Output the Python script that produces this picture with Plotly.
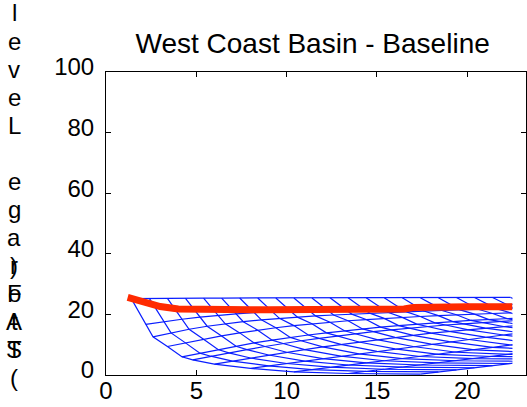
import plotly.graph_objects as go

# storage runs: each row is one run, starting full and drawn down step by step
start_years = [1.4, 2.4, 3.4, 4.4, 5.4, 6.4, 7.4, 8.4, 9.4, 10.4, 11.4,
               12.4, 13.4, 14.4, 15.4, 16.4, 17.4, 18.4, 19.4, 20.4, 21.4, 22.4]
step_offsets = [0, 0.8, 1.2, 2.0, 2.8, 3.4, 4.6, 6.6, 9.0, 12.0, 16.0]
storage_runs = [
    [25.2, 16.7, 12.6, 9.4, 6.0, 5.0, 3.6, 2.2, 1.0, 0.5, 0.3],
    [25.3, 17.6, 13.9, 10.6, 7.2, 6.2, 4.6, 3.0, 1.8, 1.2, 1.0],
    [25.3, 18.4, 15.1, 11.8, 8.4, 7.3, 5.6, 3.8, 2.6, 1.9, 1.7],
    [25.3, 19.1, 16.1, 12.9, 9.5, 8.4, 6.6, 4.6, 3.3, 2.6, 2.4],
    [25.4, 19.7, 16.9, 13.9, 10.6, 9.4, 7.5, 5.4, 4.0, 3.3, 3.1],
    [25.4, 20.2, 17.6, 14.8, 11.5, 10.4, 8.4, 6.2, 4.7, 4.0, 3.8],
    [25.4, 20.6, 18.2, 15.6, 12.4, 11.3, 9.3, 7.0, 5.4, 4.7, 4.5],
    [25.4, 21.0, 18.7, 16.3, 13.2, 12.1, 10.1, 7.8, 6.1, 5.4, 5.2],
    [25.4, 21.3, 19.1, 16.9, 13.9, 12.9, 10.9, 8.6, 6.8, 6.1, 5.9],
    [25.4, 21.6, 19.5, 17.4, 14.6, 13.6, 11.7, 9.4, 7.5, 6.8, 6.6],
    [25.4, 21.8, 19.8, 17.9, 15.2, 14.3, 12.4, 10.2, 8.3, 7.5],
    [25.5, 22.0, 20.1, 18.3, 15.8, 14.9, 13.1, 11.0, 9.1, 8.3],
    [25.5, 22.2, 20.4, 18.7, 16.3, 15.5, 13.8, 11.8, 9.9, 9.1],
    [25.5, 22.4, 20.7, 19.0, 16.8, 16.0, 14.4, 12.5, 10.7],
    [25.5, 22.6, 20.9, 19.3, 17.2, 16.5, 15.0, 13.2, 11.5],
    [25.5, 22.7, 21.1, 19.6, 17.6, 16.9, 15.5, 13.9],
    [25.5, 22.9, 21.3, 19.9, 18.0, 17.3, 16.0, 14.5],
    [25.5, 23.0, 21.5, 20.1, 18.3, 17.7, 16.5],
    [25.6, 23.1, 21.7, 20.3, 18.6, 18.0],
    [25.6, 23.2, 21.9, 20.5, 18.9],
    [25.6, 23.3, 22.0],
    [25.6, 23.4],
]

# baseline storage
baseline_years = [1.2, 2, 3, 4, 5, 6, 7, 8, 9, 10, 11, 12, 13, 14, 15, 16, 16.5,
                  17, 18, 19, 20, 21, 22, 22.5]
baseline_storage = [25.6, 24.0, 22.6, 21.8, 21.6, 21.5, 21.5, 21.5, 21.5, 21.5,
                    21.5, 21.5, 21.5, 21.5, 21.6, 21.7, 21.8, 22.3, 22.5, 22.5,
                    22.5, 22.5, 22.5, 22.5]

x_ticks = [0, 5, 10, 15, 20]
y_ticks = [0, 20, 40, 60, 80, 100]
title_text = "West Coast Basin - Baseline"
label_main = "Storage Level"
label_unit = "(TAF)"

FONT = "Liberation Sans, Arial, Helvetica, sans-serif"
W, H = 527, 407
ML, MR, MT, MB = 106, 1, 72, 32
PW, PH = W - ML - MR, H - MT - MB

# wireframe: runs plus lines joining the same step across runs
wx, wy = [], []
for s, run in zip(start_years, storage_runs):
    for j, v in enumerate(run):
        wx.append(s + step_offsets[j])
        wy.append(v)
    wx.append(None)
    wy.append(None)
for j in range(len(step_offsets)):
    for s, run in zip(start_years, storage_runs):
        if j < len(run):
            wx.append(s + step_offsets[j])
            wy.append(run[j])
    wx.append(None)
    wy.append(None)

fig = go.Figure()
fig.add_trace(go.Scatter(x=[], y=[], xaxis="x", yaxis="y", showlegend=False))
fig.add_trace(go.Scatter(x=wx, y=wy, mode="lines", xaxis="x2", yaxis="y2",
                         line=dict(color="#0a1eff", width=1.2), showlegend=False,
                         hoverinfo="skip"))
fig.add_trace(go.Scatter(x=baseline_years, y=baseline_storage, mode="lines",
                         xaxis="x2", yaxis="y2",
                         line=dict(color="#ff2a00", width=7), showlegend=False))

x_max = 23.25
clip_x = 22.5
axis_common = dict(showline=True, linecolor="black", linewidth=1, mirror="ticks",
                   ticks="inside", ticklen=5, tickcolor="black", showgrid=False,
                   zeroline=False, tickfont=dict(size=24, color="black", family=FONT))

annotations = []
for i, ch in enumerate(label_main):
    annotations.append(dict(text=ch, x=(14 - ML) / PW, y=(H - MB - (349 - 28 * i)) / PH,
                            xref="paper", yref="paper", showarrow=False,
                            xanchor="center", yanchor="middle",
                            font=dict(size=24, color="black", family=FONT)))
for i, ch in enumerate(label_unit):
    annotations.append(dict(text=ch, x=(14 - ML) / PW, y=(H - MB - (377 - 28 * i)) / PH,
                            xref="paper", yref="paper", showarrow=False,
                            xanchor="center", yanchor="middle",
                            font=dict(size=24, color="black", family=FONT)))

fig.update_layout(
    template="none",
    width=W, height=H,
    margin=dict(l=ML, r=MR, t=MT, b=MB, autoexpand=False),
    paper_bgcolor="white", plot_bgcolor="rgba(0,0,0,0)",
    font=dict(family=FONT, color="black"),
    title=dict(text=title_text, x=0.492, xref="paper", xanchor="center",
               y=1 - 43 / H, yref="container", yanchor="middle",
               font=dict(size=28, color="black", family=FONT)),
    xaxis=dict(range=[0, x_max], tickvals=x_ticks, domain=[0, 1], anchor="y",
               ticklabelstandoff=-6, **axis_common),
    yaxis=dict(range=[0, 100], tickvals=y_ticks, domain=[0, 1], anchor="x",
               ticklabelstandoff=6, ticklabelshift=-5, **axis_common),
    xaxis2=dict(range=[0, clip_x], domain=[0, clip_x / x_max], anchor="y2",
                visible=False, showgrid=False, zeroline=False),
    yaxis2=dict(range=[0, 100], domain=[0, 1], anchor="x2",
                visible=False, showgrid=False, zeroline=False),
    annotations=annotations,
)

fig.write_html("out.html", config={"displayModeBar": False},
               post_script="document.body.style.margin='0';")
